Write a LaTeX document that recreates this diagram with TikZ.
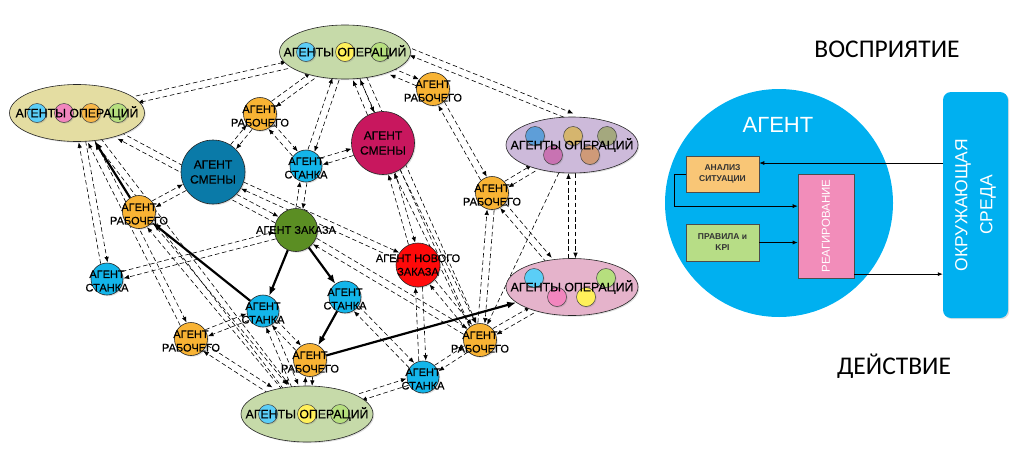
\documentclass[tikz,border=0pt]{standalone}
\usepackage{fontspec}
\setmainfont{Liberation Sans}
\newfontfamily\calibri{Carlito}
\newfontfamily\lblfont[FakeBold=0.35]{Liberation Sans}
\usetikzlibrary{shapes.geometric,arrows.meta,calc,shadows}
\pgfdeclarelayer{background}
\pgfsetlayers{background,main}
\definecolor{wkorange}{HTML}{F8B334}
\definecolor{mcblue}{HTML}{13B5EA}
\definecolor{shiftblue}{HTML}{0A7AA8}
\definecolor{shiftred}{HTML}{C8175E}
\definecolor{ordergreen}{HTML}{5B8E23}
\definecolor{newred}{HTML}{FF0A0A}
\definecolor{opskhaki}{HTML}{E4DDA2}
\definecolor{opsgreen}{HTML}{C6DAA9}
\definecolor{opslilac}{HTML}{CDBADA}
\definecolor{opspink}{HTML}{E5B3CB}
\definecolor{inblue}{HTML}{5BCEF7}
\definecolor{inpink}{HTML}{F286BE}
\definecolor{inorange}{HTML}{F8B748}
\definecolor{ingreen}{HTML}{B6DF7E}
\definecolor{inyellow}{HTML}{FFF05A}
\definecolor{mutblue}{HTML}{5E9ED8}
\definecolor{mutpurple}{HTML}{C873B2}
\definecolor{mutgold}{HTML}{D5B56E}
\definecolor{mutolive}{HTML}{A4A87E}
\definecolor{muttan}{HTML}{CF9A78}
\definecolor{agentblue}{HTML}{00B0F0}
\definecolor{analysis}{HTML}{F9C676}
\definecolor{rules}{HTML}{B7DD86}
\definecolor{react}{HTML}{F28DBA}
\begin{document}
\begin{tikzpicture}[x=1pt,y=-1pt,
  softshadow/.style={drop shadow={opacity=0.25,shadow xshift=1.2pt,shadow yshift=-1.2pt}},
  agent/.style={circle,draw=black!85,line width=0.6pt,inner sep=0pt,softshadow},
  worker/.style={agent,fill=wkorange,minimum size=33pt},
  machine/.style={agent,fill=mcblue,minimum size=32pt},
  ops/.style={ellipse,draw=black!85,line width=0.6pt,inner sep=0pt,minimum width=132pt,minimum height=56pt,softshadow},
  member/.style={circle,draw=black!75,line width=0.5pt,inner sep=0pt,minimum size=19pt,softshadow},
  txt/.style={align=center,inner sep=0pt,font=\lblfont\fontsize{11}{13.5}\selectfont},
  opstxt/.style={inner sep=0pt,font=\lblfont\fontsize{12.3}{14}\selectfont},
  msg/.style={dash pattern=on 4.5pt off 2.8pt,line width=0.6pt,-{Latex[length=5.5pt,width=4.5pt]}},
  strong/.style={line width=2.2pt,-{Latex[length=9pt,width=7pt]}},
  unit/.style={rectangle,draw=black!70,line width=0.6pt,inner sep=0pt,align=center,font=\bfseries\fontsize{8.5}{11}\selectfont,text=black!80},
  flow/.style={line width=0.7pt,-{Latex[length=5pt,width=4pt]}}]
\useasboundingbox (0,0) rectangle (1024,450);

\node[ops,fill=opskhaki,minimum width=135pt,minimum height=57pt] (ops1) at (77,113) {};
\node[member,fill=inblue] (ops1a) at (37,113) {};
\node[member,fill=inpink] (ops1b) at (64,113) {};
\node[member,fill=inorange] (ops1c) at (91,113) {};
\node[member,fill=ingreen] (ops1d) at (118,113) {};
\node[ops,fill=opsgreen,minimum width=131pt,minimum height=54pt] (ops2) at (345,52) {};
\node[member,fill=inblue] (ops2a) at (306,52) {};
\node[member,fill=inyellow] (ops2b) at (345,52) {};
\node[member,fill=ingreen] (ops2c) at (380,52) {};
\node[ops,fill=opslilac] (ops3) at (572,145) {};
\node[member,fill=mutblue] (ops3a) at (535,136) {};
\node[member,fill=mutgold] (ops3b) at (573,136) {};
\node[member,fill=mutolive] (ops3c) at (607,136) {};
\node[member,fill=mutpurple] (ops3d) at (553,155) {};
\node[member,fill=muttan] (ops3e) at (590,155) {};
\node[ops,fill=opspink,minimum height=57pt] (ops4) at (572,287) {};
\node[member,fill=inblue] (ops4a) at (534,278) {};
\node[member,fill=ingreen] (ops4b) at (606,278) {};
\node[member,fill=inpink] (ops4c) at (557,297) {};
\node[member,fill=inyellow] (ops4d) at (586,297) {};
\node[ops,fill=opsgreen] (ops5) at (307,414) {};
\node[member,fill=inblue] (ops5a) at (268,414) {};
\node[member,fill=inyellow] (ops5b) at (307,414) {};
\node[member,fill=ingreen] (ops5c) at (340,414) {};

\node[agent,fill=shiftblue,minimum size=64pt] (shift1) at (213,172) {};
\node[agent,fill=shiftred,minimum size=63pt] (shift2) at (383,143) {};
\node[agent,fill=ordergreen,minimum size=43pt] (order) at (296,230) {};
\node[agent,fill=newred,minimum size=44pt] (neworder) at (418,265) {};
\node[worker] (wk1) at (139,212) {};
\node[worker] (wk2) at (260,114) {};
\node[worker] (wk3) at (433,89) {};
\node[worker] (wk4) at (492,193) {};
\node[worker] (wk5) at (191,339) {};
\node[worker] (wk6) at (310,360) {};
\node[worker] (wk7) at (480,340) {};
\node[machine] (mc1) at (306,166) {};
\node[machine] (mc2) at (107,279) {};
\node[machine] (mc3) at (263,311) {};
\node[machine] (mc4) at (345,297) {};
\node[machine] (mc5) at (423,377) {};

\begin{pgfonlayer}{background}
\foreach \a/\b in {ops1/ops2, ops1/order, ops1/mc2, ops1/wk5, ops1/ops5, wk1/ops5,
  shift1/wk1, shift1/wk2, shift1/neworder, ops2/wk2, ops2/mc1, ops2/shift2, ops2/wk3,
  ops2.east/ops3.north, ops2.-55/wk7, wk2/mc1, mc1/shift2, mc1/order, shift2/neworder,
  shift2/wk7, wk3/wk4, wk4/ops3, wk4/ops4, wk4/wk7, ops3/ops4, ops4/wk7, order/mc2,
  order/wk7, mc3/wk5, mc3/wk6, mc3/ops5, wk6/ops5, wk5/ops5, mc5/ops5, mc5/wk7,
  mc5/neworder, mc4/mc5, neworder/wk7}
{
  \draw[msg,transform canvas={shift={($(\a)!3.5pt!90:(\b)-(\a)$)}}] (\a) -- (\b);
  \draw[msg,transform canvas={shift={($(\a)!3.5pt!-90:(\b)-(\a)$)}}] (\b) -- (\a);
}
\draw[msg] (ops3) -- (wk7);
\end{pgfonlayer}

\draw[strong] (mc3) -- (wk1);
\draw[strong] (wk1) -- (ops1);
\draw[strong] (order) -- (mc3);
\draw[strong] (order) -- (mc4);
\draw[strong] (mc4) -- (wk6);
\draw[strong] (wk6) -- (ops4);

\node[opstxt] (ops1t) at (ops1) {АГЕНТЫ ОПЕРАЦИЙ};
\node[opstxt] (ops2t) at (ops2) {АГЕНТЫ ОПЕРАЦИЙ};
\node[opstxt] (ops3t) at (ops3) {АГЕНТЫ ОПЕРАЦИЙ};
\node[opstxt] (ops4t) at (ops4) {АГЕНТЫ ОПЕРАЦИЙ};
\node[opstxt] (ops5t) at (ops5) {АГЕНТЫ ОПЕРАЦИЙ};
\node[txt,font=\lblfont\fontsize{12}{15}\selectfont] (shift1t) at (shift1) {АГЕНТ\\СМЕНЫ};
\node[txt,font=\lblfont\fontsize{12}{15}\selectfont] (shift2t) at (shift2) {АГЕНТ\\СМЕНЫ};
\node[txt] (ordert) at (order) {АГЕНТ ЗАКАЗА};
\node[txt] (newordert) at (neworder) {АГЕНТ НОВОГО\\ЗАКАЗА};
\foreach \w in {wk1,wk2,wk3,wk4,wk5,wk6,wk7}
  \node[txt] (\w t) at ($(\w)+(0,2)$) {АГЕНТ\\РАБОЧЕГО};
\foreach \m in {mc1,mc2,mc3,mc4,mc5}
  \node[txt] (\m t) at ($(\m)+(0,2)$) {АГЕНТ\\СТАНКА};

\node[circle,fill=agentblue,minimum size=228pt,inner sep=0pt] (agent) at (779,203) {};
\node[text=white,font=\fontsize{22}{24}\selectfont] (agentt) at (778,125) {АГЕНТ};
\node[unit,fill=analysis,minimum width=73pt,minimum height=36pt] (anal) at (722.5,174) {АНАЛИЗ\\СИТУАЦИИ};
\node[unit,fill=rules,minimum width=73pt,minimum height=37pt] (rule) at (722.5,242.5) {ПРАВИЛА и\\KPI};
\node[unit,fill=react,minimum width=56pt,minimum height=104pt] (reac) at (826,226) {};
\node[rotate=90,text=white,font=\fontsize{11.5}{13}\selectfont] (react) at (reac) {РЕАГИРОВАНИЕ};
\node[fill=agentblue,rounded corners=8pt,minimum width=65pt,minimum height=226pt,softshadow] (env) at (975.5,205) {};
\node[rotate=90,text=white,align=center,font=\fontsize{17.5}{25}\selectfont] (envt) at (env) {ОКРУЖАЮЩАЯ\\СРЕДА};
\node[font=\calibri\fontsize{25.5}{28}\selectfont] (percep) at (887,49) {ВОСПРИЯТИЕ};
\node[font=\calibri\fontsize{25.5}{28}\selectfont] (action) at (894,366) {ДЕЙСТВИЕ};

\coordinate (anal in) at ($(anal.north east)!0.2!(anal.south east)$);
\coordinate (reac in) at ($(reac.north west)!0.31!(reac.south west)$);
\coordinate (reac out) at ($(reac.north east)!0.96!(reac.south east)$);
\draw[flow] (env.west |- anal in) -- (anal in);
\draw[flow] (anal.west) -- ++(-11,0) |- (reac in);
\draw[flow] (rule.east) -- (rule.east -| reac.west);
\draw[flow] (reac out) -- (reac out -| env.west);
\end{tikzpicture}
\end{document}
